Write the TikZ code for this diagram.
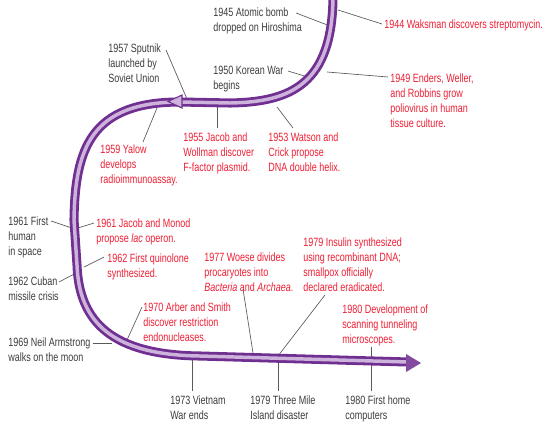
\documentclass[tikz,border=0pt]{standalone}
\usepackage{fontspec}
\setmainfont[FakeStretch=0.75]{Liberation Sans}
\definecolor{evtred}{RGB}{238,30,52}
\definecolor{histtxt}{RGB}{60,60,60}
\definecolor{banddark}{RGB}{112,48,145}
\definecolor{bandlight}{RGB}{205,178,220}
\definecolor{connc}{RGB}{90,90,90}
\begin{document}
\begin{tikzpicture}[x=0.75pt,y=-0.75pt,
  lbl/.style={anchor=north west, inner sep=0pt, align=left, font=\fontsize{9}{11.25}\selectfont},
  hist/.style={lbl, text=histtxt},
  evt/.style={lbl, text=evtred},
  conn/.style={draw=connc, line width=0.5pt},
  bandout/.style={draw=banddark, line width=6.8pt},
  bandin/.style={draw=bandlight, line width=2.6pt}]
\useasboundingbox (0,0) rectangle (545,424);

% texts (history, dark)
\node[hist] (t45) at (213,7.5) {1945 Atomic bomb\\dropped on Hiroshima};
\node[hist] (t57) at (108,43.5) {1957 Sputnik\\launched by\\Soviet Union};
\node[hist] (t50) at (213,65.5) {1950 Korean War\\begins};
\node[hist] (t61h) at (8,216.5) {1961 First\\human\\in space};
\node[hist] (t62c) at (8,276.5) {1962 Cuban\\missile crisis};
\node[hist] (t69) at (8,337.5) {1969 Neil Armstrong\\walks on the moon};
\node[hist] (t73) at (170,395.5) {1973 Vietnam\\War ends};
\node[hist] (t79t) at (250,395.5) {1979 Three Mile\\Island disaster};
\node[hist] (t80h) at (345,395.5) {1980 First home\\computers};

% texts (events, red)
\node[evt] (e44) at (384,19.5) {1944 Waksman discovers streptomycin.};
\node[evt] (e49) at (390,73.5) {1949 Enders, Weller,\\and Robbins grow\\poliovirus in human\\tissue culture.};
\node[evt] (e53) at (268,132.5) {1953 Watson and\\Crick propose\\DNA double helix.};
\node[evt] (e55) at (183,132.5) {1955 Jacob and\\Wollman discover\\F-factor plasmid.};
\node[evt] (e59) at (100,144.5) {1959 Yalow\\develops\\radioimmunoassay.};
\node[evt] (e61) at (96,218.5) {1961 Jacob and Monod\\propose \textit{lac} operon.};
\node[evt] (e62) at (107,253.5) {1962 First quinolone\\synthesized.};
\node[evt] (e70) at (143,302.5) {1970 Arber and Smith\\discover restriction\\endonucleases.};
\node[evt] (e77) at (204,252.5) {1977 Woese divides\\procaryotes into\\\textit{Bacteria} and \textit{Archaea}.};
\node[evt] (e79) at (303,237.5) {1979 Insulin synthesized\\using recombinant DNA;\\smallpox officially\\declared eradicated.};
\node[evt] (e80) at (342,304.5) {1980 Development of\\scanning tunneling\\microscopes.};

% connector end points
\coordinate (a45) at (296,13);  \coordinate (b45) at (330,26);
\coordinate (a44) at (338,10);  \coordinate (b44) at (382,24);
\coordinate (a57) at (166,50);  \coordinate (b57) at (187,99);
\coordinate (a50) at (288,71);  \coordinate (b50) at (311,78);
\coordinate (a49) at (327,72);  \coordinate (b49) at (388,77);
\coordinate (a53) at (277,107); \coordinate (b53) at (293,128);
\coordinate (a55) at (217,107); \coordinate (b55) at (217,128);
\coordinate (a59) at (157,108); \coordinate (b59) at (143,142);
\coordinate (a61h) at (51,221); \coordinate (b61h) at (72,228);
\coordinate (a61) at (78,228);  \coordinate (b61) at (94,223);
\coordinate (a62c) at (59,282); \coordinate (b62c) at (78,272);
\coordinate (a62) at (84,267);  \coordinate (b62) at (104,257);
\coordinate (a69) at (93,343);  \coordinate (b69) at (112,343);
\coordinate (a70) at (127,340); \coordinate (b70) at (142,307);
\coordinate (a73) at (192,360); \coordinate (b73) at (192,391);
\coordinate (a77) at (243,289); \coordinate (b77) at (253,353);
\coordinate (a79t) at (278,360); \coordinate (b79t) at (278,391);
\coordinate (a79) at (325,295); \coordinate (b79) at (278,356);
\coordinate (a80) at (371,347); \coordinate (b80) at (371,391);

\foreach \n in {45,44,57,50,49,53,55,59,61h,61,62c,62,69,70,73,77,79t,79,80}
  \draw[conn] (a\n) -- (b\n);

% band
\coordinate (p0) at (333,-5);
\coordinate (p1) at (230,103);
\coordinate (p2) at (180,102);
\coordinate (p3) at (74,220);
\coordinate (p4) at (77,265);
\coordinate (p5) at (200,356);
\coordinate (p6) at (408,362);
\foreach \s in {bandout,bandin}
  \draw[\s] (p0) .. controls (333,85) and (290,102) .. (p1) -- (p2)
    .. controls (90,102) and (75,150) .. (p3) -- (p4)
    .. controls (79,322) and (112,355) .. (p5) -- (p6);
% mid arrowhead
\coordinate (m0) at (168,101.5);
\draw[banddark, fill=bandlight, line width=0.8pt] (m0) -- (182,95) -- (182,108) -- cycle;
% final arrowhead
\coordinate (h0) at (421,363);
\fill[banddark!80!bandlight] (h0) -- (406,354) -- (406,372) -- cycle;
\end{tikzpicture}
\end{document}
